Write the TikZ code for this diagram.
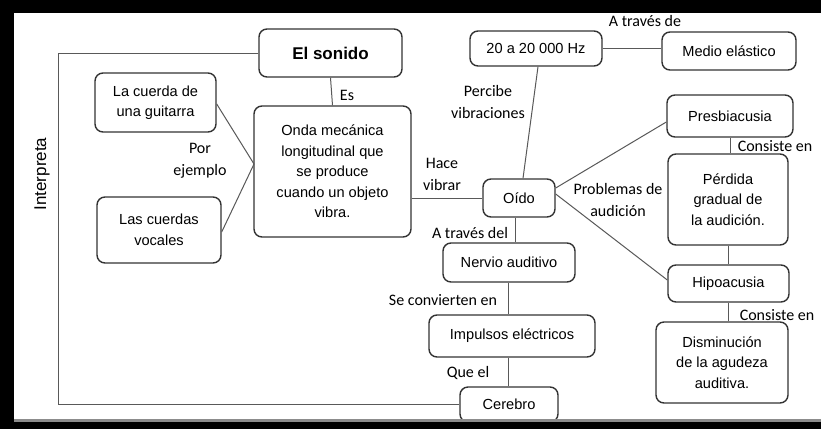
\documentclass[tikz,border=0pt]{standalone}
\usepackage{fontspec}
\setmainfont{Liberation Sans}
\newfontfamily\labfont{Carlito}
\usetikzlibrary{calc}
\begin{document}
\begin{tikzpicture}[x=1pt,y=-1pt,
  box/.style={draw=black!80, line width=1.4pt, rounded corners=8pt, align=center, inner sep=0pt,
    text=black, font=\fontsize{14.6}{20.5}\selectfont},
  conn/.style={draw=black!65, line width=1pt},
  lab/.style={font=\labfont\fontsize{16}{22}\selectfont, align=center, inner sep=0pt, text=black}]
\useasboundingbox (0,0) rectangle (821,429);
\fill[white] (0,0) rectangle (821,429);

% nodes
\node[box, minimum width=143pt, minimum height=48pt, font=\bfseries\fontsize{17}{20}\selectfont] (sonido) at (330.5,53) {El sonido};
\node[box, minimum width=121pt, minimum height=59pt] (cuerda) at (155.5,102.5) {La cuerda de\\una guitarra};
\node[box, minimum width=157pt, minimum height=131pt] (onda) at (332.5,171.5) {Onda mecánica\\longitudinal que\\se produce\\cuando un objeto\\vibra.};
\node[box, minimum width=124pt, minimum height=66pt] (vocales) at (159,230) {Las cuerdas\\vocales};
\node[box, minimum width=132pt, minimum height=35pt] (hz) at (536,48.5) {20 a 20 000 Hz};
\node[box, minimum width=134pt, minimum height=38pt] (medio) at (729,51) {Medio elástico};
\node[box, minimum width=72pt, minimum height=38pt] (oido) at (519,198) {Oído};
\node[box, minimum width=126pt, minimum height=42pt] (presb) at (730,116) {Presbiacusia};
\node[box, minimum width=120pt, minimum height=91pt] (perdida) at (728,199.5) {Pérdida\\gradual de\\la audición.};
\node[box, minimum width=121pt, minimum height=37pt] (hipo) at (728.5,283.5) {Hipoacusia};
\node[box, minimum width=132pt, minimum height=81pt] (dismi) at (722,362.5) {Disminución\\de la agudeza\\auditiva.};
\node[box, minimum width=132pt, minimum height=39pt] (nervio) at (509,262.5) {Nervio auditivo};
\node[box, minimum width=166pt, minimum height=42pt] (impulsos) at (512,336) {Impulsos eléctricos};
\node[box, minimum width=98pt, minimum height=35pt] (cerebro) at (509,404.5) {Cerebro};

% helper coordinates
\coordinate (ex) at (254,164);
\coordinate (loopT) at (58,53);
\coordinate (loopB) at (58,404);

% connectors
\draw[conn] (sonido.west) -- (loopT) -- (loopB) -- (cerebro.west |- loopB);
\draw[conn] (sonido.south) -- (onda.north);
\draw[conn] ($(cuerda.east)+(0,1.5)$) -- (ex);
\draw[conn] ($(vocales.east)+(0,2)$) -- (ex);
\draw[conn] (onda.east |- oido.west) -- (oido.west);
\draw[conn] ($(hz.south)+(2,0)$) -- ($(oido.north)+(4,0)$);
\draw[conn] (hz.east) -- (hz.east -| medio.west);
\draw[conn] ($(oido.east)+(0,-10)$) -- ($(presb.west)+(0,6)$);
\draw[conn] ($(oido.east)+(0,-4)$) -- ($(hipo.west)+(0,-3.5)$);
\draw[conn] (presb.south) -- (presb.south |- perdida.north);
\draw[conn] (perdida.south) -- (perdida.south |- hipo.north);
\draw[conn] (hipo.south) -- (hipo.south |- dismi.north);
\draw[conn] ($(oido.south)+(-4,0)$) coordinate (os) -- (os |- nervio.north);
\draw[conn] ($(nervio.south)+(-1,0)$) coordinate (ns) -- (ns |- impulsos.north);
\draw[conn] (ns |- impulsos.south) -- (ns |- cerebro.north);

% labels
\node[font=\fontsize{17}{20}\selectfont, rotate=90, text=black, inner sep=0pt] (interp) at (42,174) {Interpreta};
\node[lab] (les) at (347,95) {Es};
\node[lab] (lpor) at (200,161) {Por\\ejemplo};
\node[lab] (lhace) at (442,174) {Hace\\vibrar};
\node[lab] (lperc) at (488,101.5) {Percibe\\vibraciones};
\node[lab] (latr) at (645,21) {A través de};
\node[lab] (lprob) at (618,200) {Problemas de\\audición};
\node[lab] (lcons1) at (775,146) {Consiste en};
\node[lab] (lcons2) at (777,315) {Consiste en};
\node[lab] (latrdel) at (470,233) {A través del};
\node[lab] (lse) at (443,300) {Se convierten en};
\node[lab] (lque) at (468,373) {Que el};

% frame bands
\fill[black] (0,0) rectangle (821,13);
\fill[black] (0,0) rectangle (14,429);
\fill[black!45] (14,419) rectangle (821,422);
\fill[black] (0,422) rectangle (821,429);
\end{tikzpicture}
\end{document}
